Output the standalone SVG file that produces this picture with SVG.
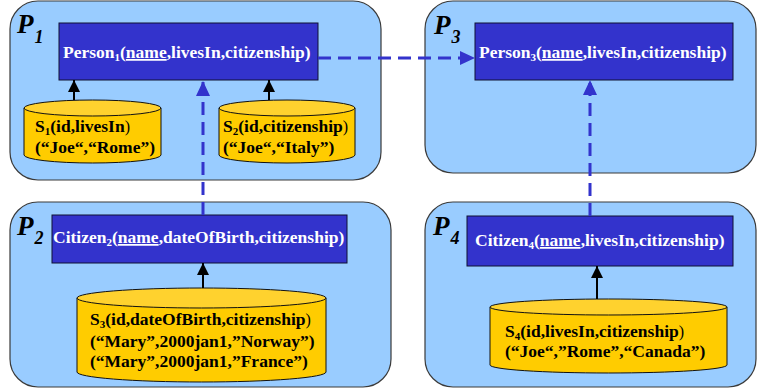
<svg xmlns="http://www.w3.org/2000/svg" width="757" height="391" viewBox="0 0 757 391">
<style>
.panel{fill:#99CCFF;stroke:#3a3a3a;stroke-width:1.2}
.node{fill:#3333CC;stroke:#111133;stroke-width:1}
.ntext{font-family:'Liberation Serif','Times New Roman','DejaVu Serif',serif;font-weight:bold;font-size:17.5px;fill:#ffffff}
.cyl{fill:#FFCC00;stroke:#111;stroke-width:1}
.cyltop{fill:#FFD22E;stroke:#111;stroke-width:1}
.ctext{font-family:'Liberation Serif','Times New Roman','DejaVu Serif',serif;font-weight:bold;font-size:17.5px;fill:#000}
.plabel{font-family:'Liberation Serif','Times New Roman','DejaVu Serif',serif;font-weight:bold;font-style:italic;font-size:27px;fill:#000}
.dash{stroke:#3333CC;stroke-width:3;stroke-dasharray:13 7;fill:none}
.solid{stroke:#000;stroke-width:2;fill:none}
.rp{font-weight:normal;font-size:16px}
</style>
<defs>
<marker id="blueArrow" markerUnits="userSpaceOnUse" markerWidth="16" markerHeight="16" viewBox="0 0 16 16" refX="15" refY="8" orient="auto">
<path d="M0,1 L15,8 L0,15 Z" fill="#3333CC"/>
</marker>
<marker id="blackArrow" markerUnits="userSpaceOnUse" markerWidth="13" markerHeight="13" viewBox="0 0 13 13" refX="12" refY="6.5" orient="auto">
<path d="M0,0.5 L12,6.5 L0,12.5 Z" fill="#000"/>
</marker>
</defs>

<g id="P1">
<rect class="panel" x="10" y="1" width="371" height="179" rx="28" ry="28"/>
<text class="plabel" x="17" y="33">P<tspan font-size="18" dx="1" dy="10">1</tspan></text>
</g>
<g id="P3">
<rect class="panel" x="425" y="1" width="331" height="172" rx="28" ry="28"/>
<text class="plabel" x="434" y="34">P<tspan font-size="18" dx="1" dy="9">3</tspan></text>
</g>
<g id="P2">
<rect class="panel" x="10" y="202" width="381" height="185" rx="28" ry="28"/>
<text class="plabel" x="17" y="235">P<tspan font-size="18" dx="1" dy="9">2</tspan></text>
</g>
<g id="P4">
<rect class="panel" x="425" y="202" width="331" height="185" rx="28" ry="28"/>
<text class="plabel" x="433" y="235">P<tspan font-size="18" dx="1" dy="9">4</tspan></text>
</g>

<g id="Person1">
<rect class="node" x="59" y="23" width="259" height="57"/>
<text class="ntext" x="63" y="58">Person<tspan font-size="11" dy="3">1</tspan><tspan dy="-3">(</tspan><tspan text-decoration="underline">name</tspan>,livesIn,citizenship)</text>
</g>
<g id="Person3">
<rect class="node" x="475" y="23" width="258" height="57"/>
<text class="ntext" x="479" y="58">Person<tspan font-size="11" dy="3">3</tspan><tspan dy="-3">(</tspan><tspan text-decoration="underline">name</tspan>,livesIn,citizenship)</text>
</g>
<g id="Citizen2">
<rect class="node" x="52" y="215" width="295" height="48"/>
<text class="ntext" x="53" y="243">Citizen<tspan font-size="11" dy="3">2</tspan><tspan dy="-3">(</tspan><tspan text-decoration="underline">name</tspan>,dateOfBirth,citizenship)</text>
</g>
<g id="Citizen4">
<rect class="node" x="467" y="216" width="266" height="50"/>
<text class="ntext" x="475" y="246">Citizen<tspan font-size="11" dy="3">4</tspan><tspan dy="-3">(</tspan><tspan text-decoration="underline">name</tspan>,livesIn,citizenship)</text>
</g>

<g id="S1">
<path class="cyl" d="M24,108 L24,155 A68.5,8 0 0 0 161,155 L161,108 Z"/>
<ellipse class="cyltop" cx="92.5" cy="108" rx="68.5" ry="8"/>
<text class="ctext" x="35" y="132">S<tspan font-size="11" dy="3">1</tspan><tspan dy="-3">(id,livesIn</tspan><tspan class="rp">)</tspan></text>
<text class="ctext" x="35" y="153">(“Joe“,“Rome”)</text>
</g>
<g id="S2">
<path class="cyl" d="M219,108 L219,155 A68,8 0 0 0 355,155 L355,108 Z"/>
<ellipse class="cyltop" cx="287" cy="108" rx="68" ry="8"/>
<text class="ctext" x="223" y="132">S<tspan font-size="11" dy="3">2</tspan><tspan dy="-3">(id,citizenship</tspan><tspan class="rp">)</tspan></text>
<text class="ctext" x="223" y="153">(“Joe“,“Italy”)</text>
</g>
<g id="S3">
<path class="cyl" d="M77,298 L77,372 A124.5,10 0 0 0 326,372 L326,298 Z"/>
<ellipse class="cyltop" cx="201.5" cy="298" rx="124.5" ry="10"/>
<text class="ctext" x="90" y="325">S<tspan font-size="11" dy="3">3</tspan><tspan dy="-3">(id,dateOfBirth,citizenship</tspan><tspan class="rp">)</tspan></text>
<text class="ctext" x="90" y="347">(“Mary”,2000jan1,”Norway”)</text>
<text class="ctext" x="90" y="367">(“Mary”,2000jan1,”France”)</text>
</g>
<g id="S4">
<path class="cyl" d="M490,307 L490,365 A118.5,8 0 0 0 727,365 L727,307 Z"/>
<ellipse class="cyltop" cx="608.5" cy="307" rx="118.5" ry="8"/>
<text class="ctext" x="505" y="337">S<tspan font-size="11" dy="3">4</tspan><tspan dy="-3">(id,livesIn,citizenship</tspan><tspan class="rp">)</tspan></text>
<text class="ctext" x="505" y="357">(“Joe“,”Rome”,“Canada”)</text>
</g>

<g id="connectors">
<line class="solid" x1="74" y1="100" x2="74" y2="80" marker-end="url(#blackArrow)"/>
<line class="solid" x1="269" y1="100" x2="269" y2="80" marker-end="url(#blackArrow)"/>
<line class="solid" x1="203" y1="288" x2="203" y2="263" marker-end="url(#blackArrow)"/>
<line class="solid" x1="597" y1="299" x2="597" y2="266" marker-end="url(#blackArrow)"/>
<line class="dash" x1="318" y1="58" x2="475" y2="58" marker-end="url(#blueArrow)"/>
<line class="dash" x1="203" y1="215" x2="203" y2="81" marker-end="url(#blueArrow)"/>
<line class="dash" x1="590" y1="216" x2="590" y2="80" marker-end="url(#blueArrow)"/>
</g>
</svg>
